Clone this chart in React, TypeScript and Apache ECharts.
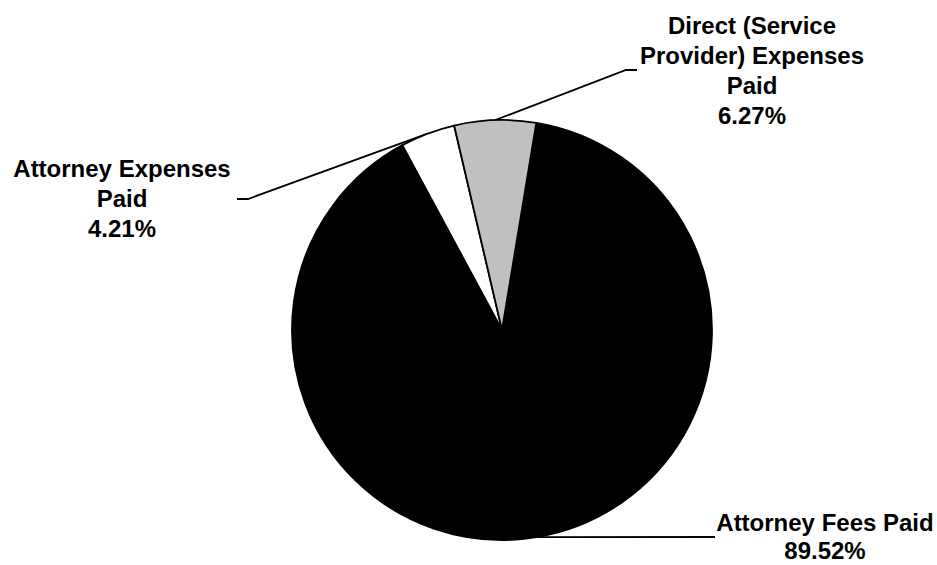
import React, { useEffect, useRef } from "react";
import * as echarts from "echarts";

const categories = [
  "Attorney Fees Paid",
  "Attorney Expenses Paid",
  "Direct (Service Provider) Expenses Paid",
];
const labelTexts = [
  "Attorney Fees Paid",
  "Attorney Expenses\nPaid",
  "Direct (Service\nProvider) Expenses\nPaid",
];
const shares = [89.52, 4.21, 6.27];
const sliceColors = ["#000000", "#ffffff", "#c0c0c0"];

// label anchor (block centre), line height, elbow and end of leader line
const labelSpots = [
  { x: 825, y: 536, lh: 28, elbow: [715, 537], end: [715, 537] },
  { x: 122, y: 198, lh: 30, elbow: [248, 199], end: [237, 199] },
  { x: 752, y: 70, lh: 30, elbow: [626, 70], end: [637, 70] },
];

export default function App() {
  const ref = useRef<HTMLDivElement>(null);

  useEffect(() => {
    if (!ref.current) return;
    const chart = echarts.init(ref.current, null, { renderer: "svg" });
    chart.setOption({
      animation: false,
      backgroundColor: "#ffffff",
      series: [
        {
          type: "pie",
          center: [502, 330],
          radius: 210,
          startAngle: 80.6,
          clockwise: true,
          avoidLabelOverlap: false,
          itemStyle: { borderColor: "#000000", borderWidth: 1.8 },
          label: {
            show: true,
            position: "outside",
            color: "#000000",
            fontFamily: "Liberation Sans, Arial, sans-serif",
            fontWeight: "bold",
            fontSize: 24,
            lineHeight: 30,
            align: "center",
            formatter: (p: any) =>
              `${labelTexts[p.dataIndex]}\n${Number(p.value).toFixed(2)}%`,
          },
          labelLine: {
            show: true,
            length: 10,
            length2: 10,
            lineStyle: { color: "#000000", width: 1.8 },
          },
          labelLayout: (params: any) => {
            const s = labelSpots[params.dataIndex];
            const pts = params.labelLinePoints;
            const start = pts && pts[0] ? pts[0] : s.elbow;
            return {
              x: s.x,
              y: s.y,
              align: "center",
              verticalAlign: "middle",
              labelLinePoints: [start, s.elbow, s.end],
            };
          },
          emphasis: { disabled: true },
          data: categories.map((name, i) => ({
            name,
            value: shares[i],
            itemStyle: { color: sliceColors[i] },
            label: { lineHeight: labelSpots[i].lh },
          })),
        },
      ],
    });
    return () => chart.dispose();
  }, []);

  return (
    <div
      ref={ref}
      style={{ position: "fixed", left: 0, top: 0, width: 937, height: 565 }}
    />
  );
}
